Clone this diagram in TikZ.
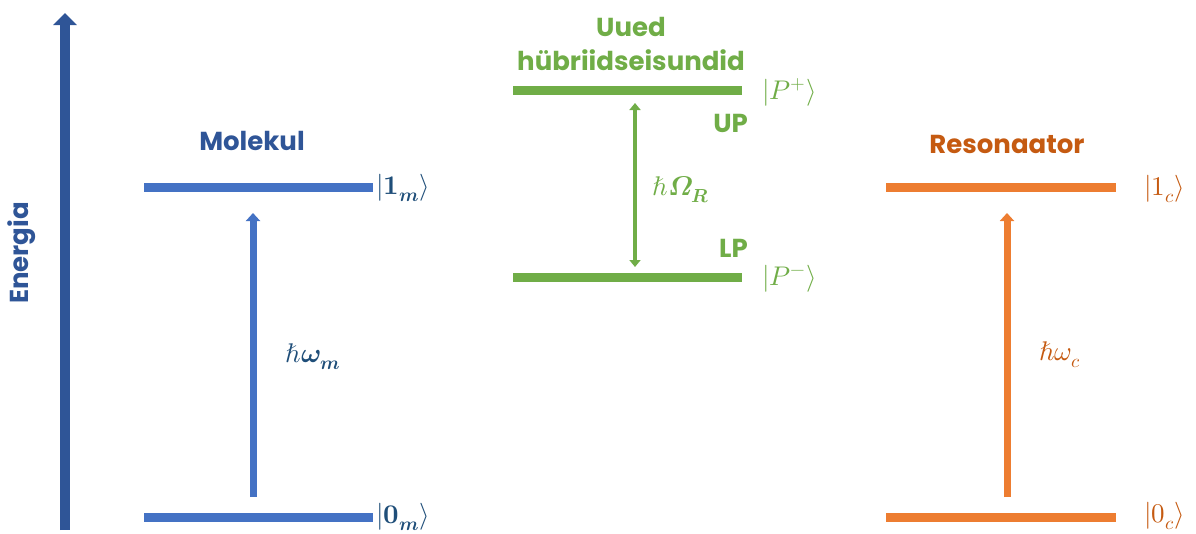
\documentclass[tikz,border=0pt]{standalone}
\usepackage{amsmath}
\usepackage{fontspec}
\usepackage{unicode-math}
\setsansfont{Poppins}
\usetikzlibrary{arrows.meta}
\definecolor{axisblue}{HTML}{2F5597}
\definecolor{levelblue}{HTML}{4472C4}
\definecolor{ketblue}{HTML}{1F4E79}
\definecolor{levelgreen}{HTML}{70AD47}
\definecolor{levelorange}{HTML}{ED7D31}
\definecolor{textorange}{HTML}{C55A11}
\tikzset{
  level/.style={line width=9pt},
  title/.style={font=\sffamily\bfseries\fontsize{26}{30}\selectfont, inner sep=0pt},
  ket/.style={font=\fontsize{27}{32}\selectfont, anchor=west, inner sep=0pt},
  gap/.style={font=\fontsize{27}{32}\selectfont, inner sep=0pt},
  transition/.style={line width=7pt, -{Triangle[width=14pt,length=8pt]}},
}
\begin{document}
\begin{tikzpicture}[x=1pt,y=-1pt]
\useasboundingbox (0,0) rectangle (1196,533);

% energy axis
\coordinate (axisbot) at (65,530);
\coordinate (axistop) at (65,13);
\draw[axisblue, line width=10pt, -{Triangle[width=23pt,length=12pt]}] (axisbot) -- (axistop);
\node[title, text=axisblue, rotate=90] (energy) at (22,253) {Energia};

% molecule
\node[title, text=axisblue] (mol) at (252,141) {Molekul};
\coordinate (m1l) at (144,187); \coordinate (m1r) at (373,187);
\coordinate (m0l) at (144,517); \coordinate (m0r) at (373,517);
\draw[level, levelblue] (m1l) -- (m1r);
\draw[level, levelblue] (m0l) -- (m0r);
\node[ket, text=ketblue] (k1m) at (376,188) {$\symbf{\vert 1}_{\symbfit{m}}\symbf{\rangle}$};
\node[ket, text=ketblue] (k0m) at (376,517) {$\symbf{\vert 0}_{\symbfit{m}}\symbf{\rangle}$};
\coordinate (ma0) at (253,497); \coordinate (ma1) at (253,213);
\draw[transition, levelblue] (ma0) -- (ma1);
\node[gap, text=ketblue] (wm) at (313,357) {$\hbar\symbfit{\omega}_{\symbfit{m}}$};

% hybrid states
\node[title, text=levelgreen] (new1) at (631,27) {Uued};
\node[title, text=levelgreen] (new2) at (631,60) {hübriidseisundid};
\coordinate (pul) at (513,90); \coordinate (pur) at (742,90);
\coordinate (pll) at (513,277); \coordinate (plr) at (742,277);
\draw[level, levelgreen] (pul) -- (pur);
\draw[level, levelgreen] (pll) -- (plr);
\node[ket, text=levelgreen] (kp) at (762,92) {$\vert P^{+}\rangle$};
\node[ket, text=levelgreen] (km) at (762,279) {$\vert P^{-}\rangle$};
\node[title, text=levelgreen, anchor=east] (up) at (748,123) {UP};
\node[title, text=levelgreen, anchor=east] (lp) at (748,248) {LP};
\coordinate (ra) at (635,103); \coordinate (rb) at (635,267);
\draw[levelgreen, line width=4.5pt, {Triangle[width=11pt,length=7pt]}-{Triangle[width=11pt,length=7pt]}] (ra) -- (rb);
\node[gap, text=levelgreen] (rabi) at (681,190) {$\hbar\symbfit{\Omega}_{\symbfit{R}}$};

% resonator
\node[title, text=textorange] (res) at (1007,144) {Resonaator};
\coordinate (c1l) at (886,187); \coordinate (c1r) at (1116,187);
\coordinate (c0l) at (886,517); \coordinate (c0r) at (1116,517);
\draw[level, levelorange] (c1l) -- (c1r);
\draw[level, levelorange] (c0l) -- (c0r);
\node[ket, text=textorange] (k1c) at (1144,189) {$\vert 1_c\rangle$};
\node[ket, text=textorange] (k0c) at (1144,516) {$\vert 0_c\rangle$};
\coordinate (ca0) at (1007,497); \coordinate (ca1) at (1007,213);
\draw[transition, levelorange] (ca0) -- (ca1);
\node[gap, text=textorange] (wc) at (1060,355) {$\hbar\omega_c$};
\end{tikzpicture}
\end{document}
